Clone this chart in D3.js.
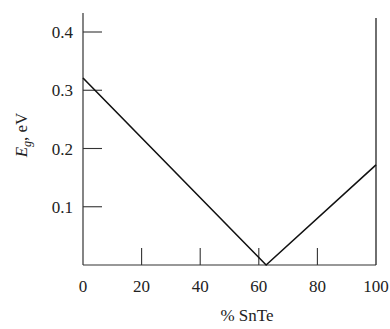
<!DOCTYPE html>
<html><head><meta charset="utf-8">
<script src="https://cdn.jsdelivr.net/npm/d3@7"></script>
<style>body{margin:0;background:#fff}svg{display:block}text{font-family:"Liberation Serif","DejaVu Serif",serif;fill:#222}</style>
</head><body><svg id="c" width="390" height="329"></svg>
<script>
const xTicks = [0, 20, 40, 60, 80, 100];
const yTicks = [0.1, 0.2, 0.3, 0.4];
const pctSnTe = [0, 62.5, 100];
const gapEV = [0.321, 0, 0.172];

const svg = d3.select("#c");
const x = d3.scaleLinear().domain([0, 100]).range([83, 376]);
const y = d3.scaleLinear().domain([0, 0.4]).range([265, 32]);
const col = "#333";

svg.append("line").attr("x1", x(0)).attr("x2", x(0)).attr("y1", 13).attr("y2", y(0)).attr("stroke", col).attr("stroke-width", 1.2);
svg.append("line").attr("x1", x(0)).attr("x2", x(100)).attr("y1", y(0)).attr("y2", y(0)).attr("stroke", col).attr("stroke-width", 1.2);
svg.append("line").attr("x1", x(100)).attr("x2", x(100)).attr("y1", 18).attr("y2", y(0)).attr("stroke", "#222").attr("stroke-width", 1.3);

const yg = svg.append("g");
yg.selectAll("line").data(yTicks).join("line")
  .attr("x1", x(0)).attr("x2", x(0) + 19).attr("y1", d => y(d)).attr("y2", d => y(d))
  .attr("stroke", col).attr("stroke-width", 1.1);
yg.selectAll("text").data(yTicks).join("text")
  .attr("x", 73).attr("y", d => y(d) + 6).attr("text-anchor", "end")
  .attr("font-size", 17).text(d => d3.format(".1f")(d));

const xg = svg.append("g");
xg.selectAll("line").data(xTicks.filter(d => d > 0 && d < 100)).join("line")
  .attr("x1", d => x(d)).attr("x2", d => x(d)).attr("y1", y(0)).attr("y2", y(0) - 17)
  .attr("stroke", col).attr("stroke-width", 1.1);
xg.selectAll("text").data(xTicks).join("text")
  .attr("x", d => x(d)).attr("y", 292).attr("text-anchor", "middle")
  .attr("font-size", 17).text(d => d);

const pts = pctSnTe.map((p, i) => [x(p), y(gapEV[i])]);
svg.append("path").attr("d", d3.line()(pts)).attr("fill", "none").attr("stroke", "#111").attr("stroke-width", 1.6);

const yl = svg.append("text").attr("transform", "translate(27,135) rotate(-90)").attr("text-anchor", "middle").attr("font-size", 17);
yl.append("tspan").attr("font-style", "italic").text("E");
yl.append("tspan").attr("font-style", "italic").attr("font-size", 12).attr("dy", 4).text("g");
yl.append("tspan").attr("dy", -4).text(", eV");

svg.append("text").attr("x", 247).attr("y", 321).attr("text-anchor", "middle").attr("font-size", 17).text("% SnTe");
</script></body></html>
